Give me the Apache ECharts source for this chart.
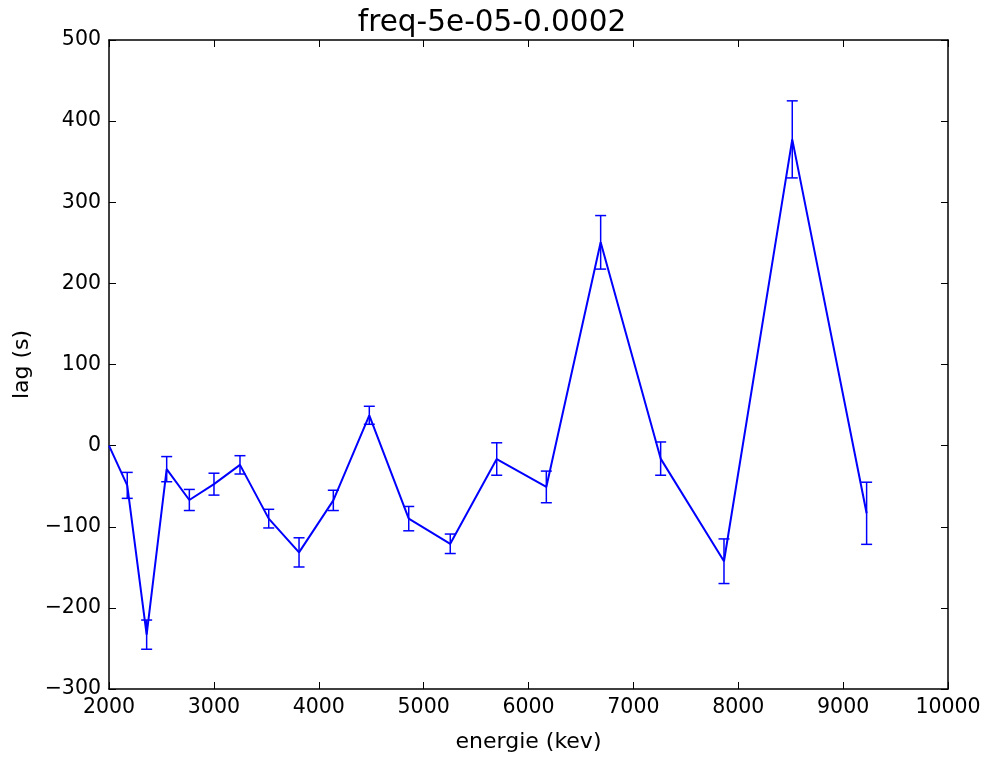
<!DOCTYPE html>
<html>
<head>
<meta charset="utf-8">
<script src="https://cdn.jsdelivr.net/npm/echarts@6/dist/echarts.min.js"></script>
<style>html,body{margin:0;padding:0;background:#fff;}#chart{width:984px;height:758px;}</style>
</head>
<body>
<div id="chart"></div>
<script>
var energy = [2000, 2174, 2359, 2550, 2766, 3001, 3249, 3523, 3812, 4139, 4482, 4858, 5254, 5697, 6170, 6688, 7260, 7864, 8515, 9224];
var lag    = [0, -49, -233, -29, -67, -47.5, -23.7, -90, -131.6, -67.5, 37.4, -90, -121, -16.5, -50.9, 250.6, -16, -142.5, 377.5, -83.4];
var lagErr = [0, 16, 18, 15.5, 13, 13.5, 11.3, 11.5, 18, 12.5, 11.1, 15, 12, 20, 19.5, 33, 20.5, 27.5, 47.5, 38.3];
var xTicks = {min: 2000, max: 10000, interval: 1000};
var yTicks = {min: -300, max: 500, interval: 100};

var chart = echarts.init(document.getElementById('chart'));
var font = 'DejaVu Sans';
var lineData = energy.map(function (x, i) { return [x, lag[i]]; });
var errData = energy.map(function (x, i) { return [x, lag[i], lagErr[i]]; });

function fmt(v) { return v < 0 ? '\u2212' + String(-v) : String(v); }

function axisCommon(extra) {
  var o = {
    type: 'value',
    axisLine: {show: true, onZero: false, lineStyle: {color: '#000', width: 1.5}},
    axisTick: {show: true, inside: true, length: 7, lineStyle: {color: '#000', width: 1}},
    splitLine: {show: false},
    axisLabel: {show: true, color: '#000', fontFamily: font, fontSize: 20.5, margin: 8, formatter: fmt}
  };
  for (var k in extra) o[k] = extra[k];
  return o;
}

var option = {
  animation: false,
  backgroundColor: '#fff',
  title: {
    text: 'freq-5e-05-0.0002',
    left: 'center',
    top: 3,
    textStyle: {fontFamily: font, fontSize: 29.5, fontWeight: 'normal', color: '#000'}
  },
  grid: {left: 109, right: 36, top: 40, bottom: 69, containLabel: false},
  xAxis: [
    axisCommon({min: xTicks.min, max: xTicks.max, interval: xTicks.interval, position: 'bottom',
      name: 'energie (kev)', nameLocation: 'middle', nameGap: 42,
      nameTextStyle: {fontFamily: font, fontSize: 22, color: '#000'}}),
    axisCommon({min: xTicks.min, max: xTicks.max, interval: xTicks.interval, position: 'top',
      axisLabel: {show: false}})
  ],
  yAxis: [
    axisCommon({min: yTicks.min, max: yTicks.max, interval: yTicks.interval, position: 'left',
      name: 'lag (s)', nameLocation: 'middle', nameGap: 76, nameRotate: 90,
      nameTextStyle: {fontFamily: font, fontSize: 22, color: '#000'}}),
    axisCommon({min: yTicks.min, max: yTicks.max, interval: yTicks.interval, position: 'right',
      axisLabel: {show: false}})
  ],
  series: [
    {
      type: 'line',
      data: lineData,
      symbol: 'none',
      lineStyle: {color: '#0000ff', width: 2},
      itemStyle: {color: '#0000ff'},
      z: 3
    },
    {
      type: 'custom',
      data: errData,
      z: 4,
      renderItem: function (params, api) {
        var x = api.value(0), y = api.value(1), e = api.value(2);
        if (!e) return null;
        var top = api.coord([x, y + e]);
        var bot = api.coord([x, y - e]);
        var hw = 5.5;
        var st = {stroke: '#0000ff', lineWidth: 1.5};
        return {
          type: 'group',
          children: [
            {type: 'line', shape: {x1: top[0], y1: top[1], x2: bot[0], y2: bot[1]}, style: st},
            {type: 'line', shape: {x1: top[0] - hw, y1: top[1], x2: top[0] + hw, y2: top[1]}, style: st},
            {type: 'line', shape: {x1: bot[0] - hw, y1: bot[1], x2: bot[0] + hw, y2: bot[1]}, style: st}
          ]
        };
      }
    }
  ]
};
chart.setOption(option);
</script>
</body>
</html>
